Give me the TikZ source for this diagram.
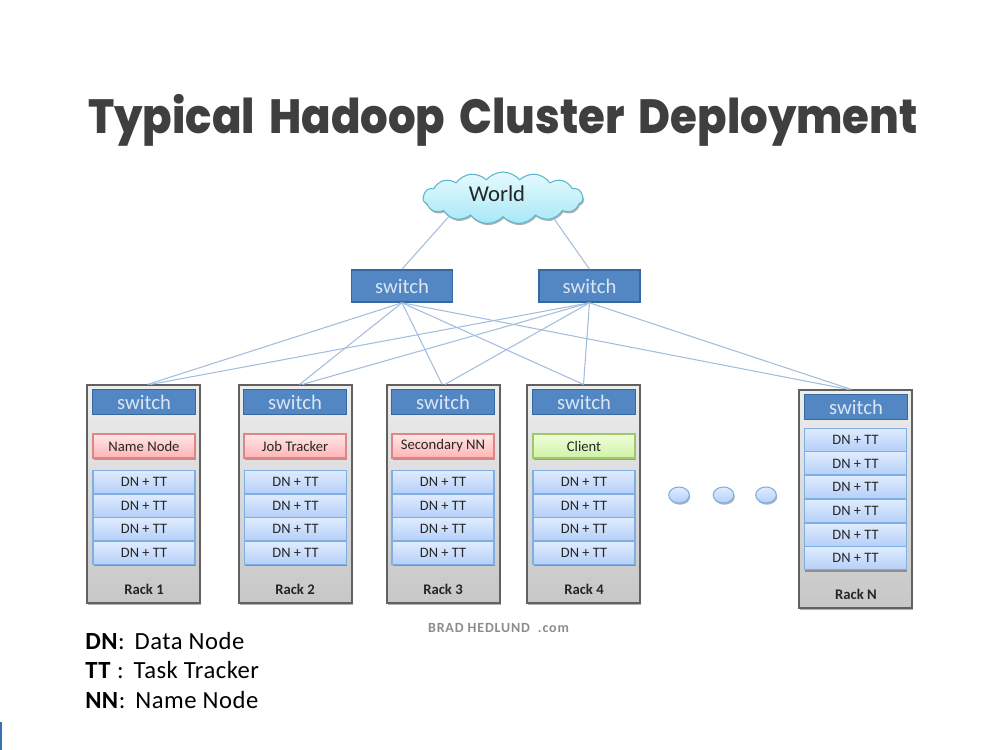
\documentclass[tikz,border=0pt]{standalone}
\usepackage{fontspec}
\setmainfont{Carlito}
\newfontfamily\titlefont{Poppins}[BoldFont=* ExtraBold,WordSpace=1.7]
\newfontfamily\keyfont{Carlito}[LetterSpace=2]
\newfontfamily\brandfont{Carlito}[LetterSpace=6]
\usepackage{tikz}
\usetikzlibrary{matrix,positioning,shapes.symbols,shapes.geometric,shadows}

\definecolor{titlegray}{HTML}{3F3F3F}
\definecolor{linkblue}{HTML}{A3BEDD}
\definecolor{switchblue}{HTML}{5287C4}
\definecolor{switchedge}{HTML}{34689F}
\definecolor{switchtext}{HTML}{DCE6F2}
\definecolor{cloudedge}{HTML}{5CB8CF}
\definecolor{cloudtop}{HTML}{E6FAFE}
\definecolor{cloudbot}{HTML}{A8E8F5}
\definecolor{dntop}{HTML}{E0ECFF}
\definecolor{dnbot}{HTML}{B5CFF8}
\definecolor{dnedge}{HTML}{7FAEE3}
\definecolor{redtop}{HTML}{FFE6E6}
\definecolor{redbot}{HTML}{FFB5B5}
\definecolor{rededge}{HTML}{E08585}
\definecolor{greentop}{HTML}{F0FFDC}
\definecolor{greenbot}{HTML}{CFF2A4}
\definecolor{greenedge}{HTML}{A0C868}

\begin{document}
\begin{tikzpicture}[x=.75pt,y=-.75pt]
	
	\tikzset{
		soft shadow/.style={drop shadow={shadow xshift=.7pt,shadow yshift=-1.3pt,opacity=.3,fill=black}},
		link/.style={draw=linkblue,line width=.8pt},
		rack/.style={draw=black!62,line width=.8pt,top color=black!7,bottom color=black!22,
			minimum width=84.75pt,minimum height=#1,inner sep=0pt,soft shadow},
		rack/.default=163.5pt,
		switchbox/.style={draw=switchedge,line width=1.2pt,fill=switchblue,text=switchtext,
			minimum width=#1,inner sep=0pt,minimum height=18.5pt,font=\fontsize{15.5}{15.5}\selectfont},
		switchbox/.default=77pt,
		topswitch/.style={switchbox=76pt,minimum height=24pt},
		rolebox/.style={line width=.8pt,minimum width=76.5pt,minimum height=18pt,inner sep=0pt,
			text=black!85,font=\fontsize{11}{11}\selectfont,soft shadow},
		redbox/.style={rolebox,draw=rededge,top color=redtop,bottom color=redbot},
		greenbox/.style={rolebox,draw=greenedge,top color=greentop,bottom color=greenbot},
		racklabel/.style={font=\bfseries\fontsize{11}{11}\selectfont,text=black!85},
		dot/.style={ellipse,draw=dnedge,line width=.8pt,top color=dntop,bottom color=dnbot,
			minimum width=15.5pt,minimum height=12pt,inner sep=0pt,soft shadow},
		dn stack/.style={
			matrix of nodes,
			row sep=-\pgflinewidth,
			nodes={draw=dnedge,line width=.8pt,top color=dntop,bottom color=dnbot,
				minimum width=76.5pt,minimum height=#1,inner sep=0pt,anchor=center,
				text=black!85,font=\fontsize{10.8}{11}\selectfont,soft shadow},
		},
		dn stack/.default=17.4pt,
		legend/.style={anchor=west,inner sep=0pt,font=\keyfont\fontsize{18.5}{19}\selectfont},
	}
	
	\useasboundingbox (0,0) rectangle (1000,750);
	
	\node[font=\titlefont\bfseries\fontsize{36}{36}\selectfont,text=titlegray] (title) at (503,120) {\scalebox{.905}[1]{Typical Hadoop Cluster Deployment}};
	
	% cloud and top switches
	\node[topswitch] (swa) at (402,286) {switch};
	\node[topswitch] (swb) at (589.5,286) {switch};
	\node[cloud,cloud puffs=15,cloud puff arc=100,aspect=3.2,draw=cloudedge,line width=.8pt,
		top color=cloudtop,bottom color=cloudbot,minimum width=120pt,minimum height=39pt,inner sep=0pt,
		soft shadow] (world) at (503,198) {};
	\node[font=\fontsize{17}{17}\selectfont,text=black!85] (worldtext) at (497,194) {World};
	\draw[link] (world.199) -- (swa.north);
	\draw[link] (world.338) -- (swb.north);
	
	% racks
	\node[rack] (rack1) at (143.5,494) {};
	\node[rack] (rack2) at (295.5,494) {};
	\node[rack] (rack3) at (443.5,494) {};
	\node[rack] (rack4) at (583.5,494) {};
	\node[rack] (rackn) at (855.5,499) {};
	
	\draw[link] (swa.south) -- ([xshift=3pt]rack1.north);
	\draw[link] (swa.south) -- ([xshift=3pt]rack2.north);
	\draw[link] (swa.south) -- ([xshift=-1pt]rack3.north);
	\draw[link] (swa.south) -- (rack4.north);
	\draw[link] (swa.south) -- ([xshift=-5pt]rackn.north);
	\draw[link] (swb.south) -- ([xshift=5pt]rack1.north);
	\draw[link] (swb.south) -- ([xshift=5pt]rack2.north);
	\draw[link] (swb.south) -- ([xshift=1pt]rack3.north);
	\draw[link] (swb.south) -- (rack4.north);
	\draw[link] (swb.south) -- ([xshift=-3pt]rackn.north);
	
	\node[switchbox] (rs1) at (144,402) {switch};
	\node[switchbox] (rs2) at (295,402) {switch};
	\node[switchbox] (rs3) at (443,402) {switch};
	\node[switchbox] (rs4) at (584,402) {switch};
	\node[switchbox] (rsn) at (856,407) {switch};
	
	\node[redbox] (name) at (144,446) {Name Node};
	\node[redbox] (job) at (295,446) {Job Tracker};
	\node[redbox] (second) at (443,446) {Secondary NN};
	\node[greenbox] (client) at (584,446) {Client};
	
	\matrix[dn stack] (dn1) at (144,517.5)
	{
		DN + TT \\
		DN + TT \\
		DN + TT \\
		DN + TT \\
	};
	\matrix[dn stack] (dn2) at (295.5,517.5)
	{
		DN + TT \\
		DN + TT \\
		DN + TT \\
		DN + TT \\
	};
	\matrix[dn stack] (dn3) at (443,517.5)
	{
		DN + TT \\
		DN + TT \\
		DN + TT \\
		DN + TT \\
	};
	\matrix[dn stack] (dn4) at (584,517.5)
	{
		DN + TT \\
		DN + TT \\
		DN + TT \\
		DN + TT \\
	};
	\matrix[dn stack] (dnn) at (855.5,499)
	{
		DN + TT \\
		DN + TT \\
		DN + TT \\
		DN + TT \\
		DN + TT \\
		DN + TT \\
	};
	
	\node[racklabel] (label1) at (144,589.5) {Rack 1};
	\node[racklabel] (label2) at (295,589.5) {Rack 2};
	\node[racklabel] (label3) at (443,589.5) {Rack 3};
	\node[racklabel] (label4) at (584,589.5) {Rack 4};
	\node[racklabel] (labeln) at (856,594.5) {Rack N};
	
	\node[dot] (dota) at (679,495) {};
	\node[dot] (dotb) at (723.5,495) {};
	\node[dot] (dotc) at (766,495) {};
	
	\node[font=\brandfont\bfseries\fontsize{10.5}{10.5}\selectfont,text=black!45] (brand) at (498.5,628) {BRAD HEDLUND~~.com};
	
	% key
	\node[legend] (keydn) at (85,641) {\textbf{DN}:\hspace{7.5pt}Data Node};
	\node[legend] (keytt) at (85,670) {\textbf{TT}\ :\hspace{7.5pt}Task Tracker};
	\node[legend] (keynn) at (85,700) {\textbf{NN}:\hspace{7.5pt}Name Node};
	
	\fill[cyan!60!blue!80!black] (0,722) rectangle (1.5,750);
	
\end{tikzpicture}
\end{document}
